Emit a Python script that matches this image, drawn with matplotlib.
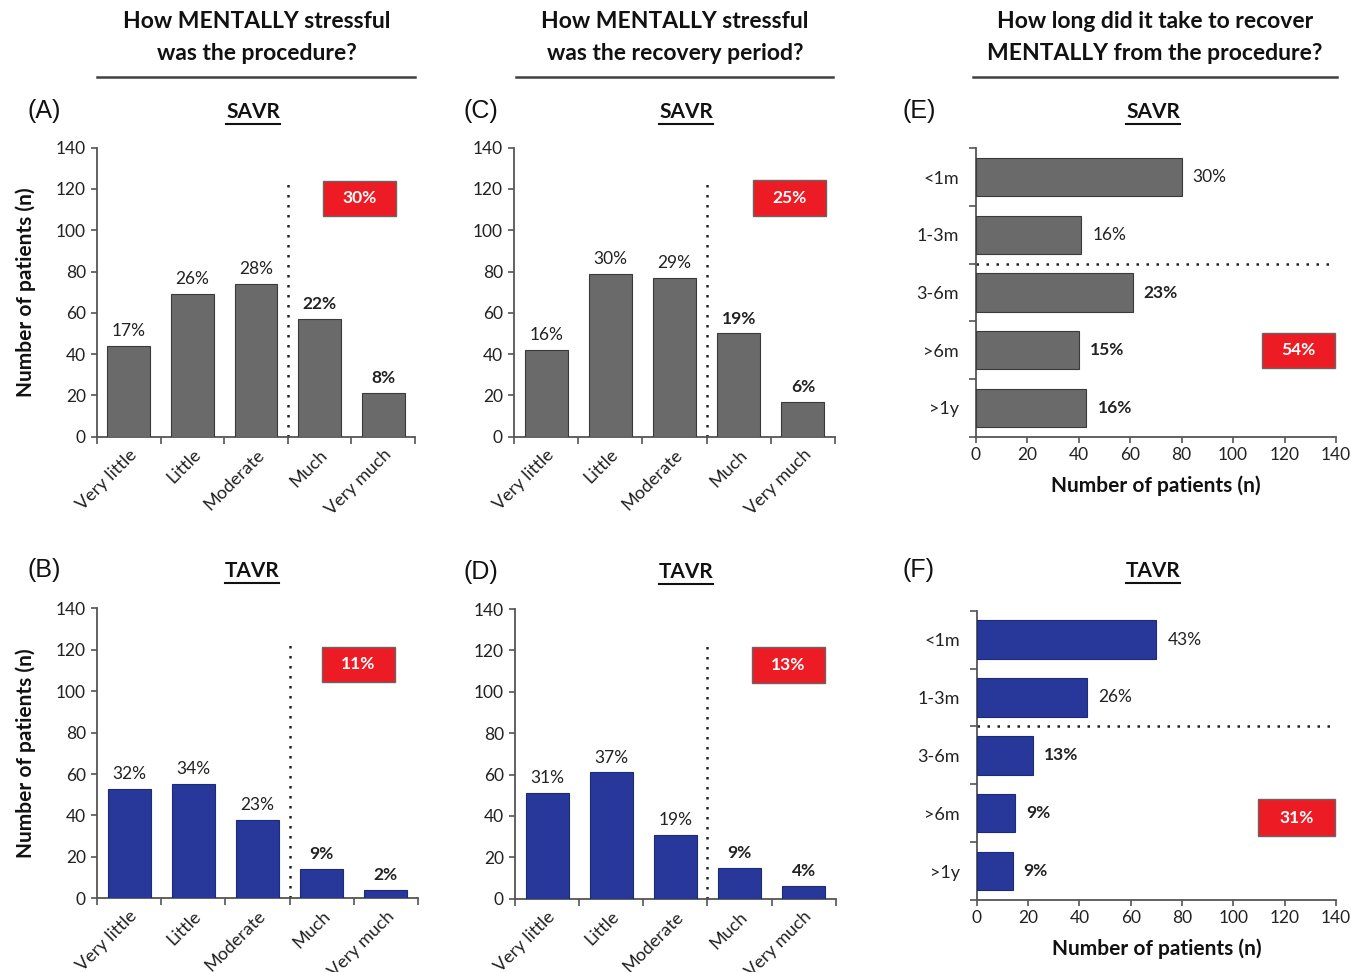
import numpy as np
import matplotlib.pyplot as plt
from matplotlib.lines import Line2D
from matplotlib.patches import Rectangle

plt.rcParams['font.family'] = ['Lato', 'DejaVu Sans']

# ---- data ----
stress_cats = ['Very little', 'Little', 'Moderate', 'Much', 'Very much']
time_cats = ['<1m', '1-3m', '3-6m', '>6m', '>1y']

savr_procedure = [44, 69, 74, 57, 21]
savr_procedure_pct = [17, 26, 28, 22, 8]
tavr_procedure = [53, 55, 38, 14, 4]
tavr_procedure_pct = [32, 34, 23, 9, 2]

savr_recovery = [42, 79, 77, 50, 17]
savr_recovery_pct = [16, 30, 29, 19, 6]
tavr_recovery = [51, 61, 31, 15, 6]
tavr_recovery_pct = [31, 37, 19, 9, 4]

savr_time = [80, 41, 61, 40, 43]
savr_time_pct = [30, 16, 23, 15, 16]
tavr_time = [70, 43, 22, 15, 14]
tavr_time_pct = [43, 26, 13, 9, 9]

box_pct = {'A': 30, 'B': 11, 'C': 25, 'D': 13, 'E': 54, 'F': 31}

W, H = 1351, 972
GREY = '#6a6a6a'
BLUE = '#27389a'
RED = '#ed1c24'
AXC = '#555555'

fig = plt.figure(figsize=(W / 100, H / 100), dpi=100)


def rect(x0, y0, x1, y1):
    # pixel box (top-left origin) -> figure fraction
    return [x0 / W, 1 - y1 / H, (x1 - x0) / W, (y1 - y0) / H]


def fp(x, y):
    return x / W, 1 - y / H


def style_axes(ax):
    for s in ['top', 'right']:
        ax.spines[s].set_visible(False)
    for s in ['left', 'bottom']:
        ax.spines[s].set_color(AXC)
        ax.spines[s].set_linewidth(1.3)
    ax.tick_params(which='both', color=AXC, width=1.2, labelsize=12.5,
                   labelcolor='#222222')


def red_box(ax, bx, val):
    x0, y0, x1, y1 = bx
    ax.add_patch(Rectangle((x0, y0), x1 - x0, y1 - y0, transform=ax.transAxes,
                           facecolor=RED, edgecolor='#666666', lw=1.0,
                           clip_on=False, zorder=4))
    ax.text((x0 + x1) / 2, (y0 + y1) / 2, f'{val}%', transform=ax.transAxes,
            ha='center', va='center', color='white', fontsize=12.5,
            fontweight='bold', zorder=5)


def edge_for(color):
    return '#3a3a3a' if color == GREY else '#1c2a78'


def vertical_panel(box, values, pct, color, boxval, bx):
    ax = fig.add_axes(box)
    style_axes(ax)
    x = np.arange(len(values))
    ax.bar(x, values, width=0.67, color=color, edgecolor=edge_for(color),
           linewidth=0.8, zorder=3)
    for i, (v, p) in enumerate(zip(values, pct)):
        ax.annotate(f'{p}%', (i, v), xytext=(0, 5), textcoords='offset points',
                    ha='center', va='bottom', fontsize=12.5,
                    fontweight='bold' if i >= 3 else 'normal', color='#222222')
    ax.set_xlim(-0.5, len(values) - 0.5)
    ax.set_ylim(0, 140)
    ax.set_yticks(np.arange(0, 141, 20))
    ax.set_xticks(x)
    ax.set_xticklabels(stress_cats, rotation=45, ha='right', rotation_mode='anchor')
    ax.set_xticks(np.arange(-0.5, len(values)), minor=True)
    ax.tick_params(axis='x', which='major', length=0, pad=7, labelsize=13)
    ax.tick_params(axis='x', which='minor', length=5, direction='out')
    ax.tick_params(axis='y', length=4, direction='out', pad=4)
    ax.plot([2.5, 2.5], [0, 124], color='#222222', lw=1.8,
            linestyle=(0, (1, 3)), zorder=2, clip_on=False)
    red_box(ax, bx, boxval)
    return ax


def horizontal_panel(box, values, pct, color, boxval, bx):
    ax = fig.add_axes(box)
    style_axes(ax)
    y = np.arange(len(values))
    ax.barh(y, values, height=0.665, color=color, edgecolor=edge_for(color),
            linewidth=0.8, zorder=3)
    for i, (v, p) in enumerate(zip(values, pct)):
        ax.annotate(f'{p}%', (v, i), xytext=(8, 0), textcoords='offset points',
                    ha='left', va='center', fontsize=12.5,
                    fontweight='bold' if i >= 2 else 'normal', color='#222222')
    ax.set_ylim(len(values) - 0.5, -0.5)
    ax.set_xlim(0, 140)
    ax.set_xticks(np.arange(0, 141, 20))
    ax.set_yticks(y)
    ax.set_yticklabels(time_cats)
    ax.set_yticks(np.arange(-0.5, len(values)), minor=True)
    ax.tick_params(axis='y', which='major', length=0, pad=12, labelsize=13)
    ax.tick_params(axis='y', which='minor', length=5, direction='out')
    ax.tick_params(axis='x', length=4, direction='out')
    ax.plot([0, 138.5], [1.5, 1.5], color='#222222', lw=1.8,
            linestyle=(0, (1, 3)), zorder=2, clip_on=False)
    red_box(ax, bx, boxval)
    ax.set_xlabel('Number of patients (n)', fontsize=15, fontweight='bold',
                  labelpad=9, color='#111111')
    return ax


axA = vertical_panel(rect(97, 147.7, 415, 436.7), savr_procedure, savr_procedure_pct,
                     GREY, box_pct['A'], (0.712, 0.764, 0.94, 0.886))
axB = vertical_panel(rect(97, 608.3, 418, 898.3), tavr_procedure, tavr_procedure_pct,
                     BLUE, box_pct['B'], (0.70, 0.746, 0.928, 0.867))
axC = vertical_panel(rect(514, 147.7, 835, 436.7), savr_recovery, savr_recovery_pct,
                     GREY, box_pct['C'], (0.745, 0.764, 0.972, 0.888))
axD = vertical_panel(rect(515, 609, 835.7, 898.7), tavr_recovery, tavr_recovery_pct,
                     BLUE, box_pct['D'], (0.739, 0.745, 0.967, 0.869))
axE = horizontal_panel(rect(975.7, 148.3, 1336, 436.7), savr_time, savr_time_pct, GREY,
                       box_pct['E'], (0.795, 0.237, 0.998, 0.361))
axF = horizontal_panel(rect(976.7, 610.7, 1336, 900), tavr_time, tavr_time_pct, BLUE,
                       box_pct['F'], (0.784, 0.221, 0.996, 0.348))

for ax in (axA, axB):
    ax.set_ylabel('Number of patients (n)', fontsize=15, fontweight='bold',
                  labelpad=14, color='#111111')

# column headers (two lines) with rule underneath
headers = [('How MENTALLY stressful', 'was the procedure?', 257, 97, 415),
           ('How MENTALLY stressful', 'was the recovery period?', 675, 516, 833),
           ('How long did it take to recover', 'MENTALLY from the procedure?', 1155, 973, 1337)]
for l1, l2, cx, x0, x1 in headers:
    fig.text(*fp(cx, 22), l1, ha='center', va='center', fontsize=16.5,
             fontweight='bold', color='#111111')
    fig.text(*fp(cx, 54), l2, ha='center', va='center', fontsize=16.5,
             fontweight='bold', color='#111111')
    fig.add_artist(Line2D([x0 / W, x1 / W], [1 - 77 / H, 1 - 77 / H],
                          color='#404040', lw=1.8))

# panel letters and underlined group titles
letters = [('(A)', 44, 111), ('(B)', 44, 570), ('(C)', 481, 111),
           ('(D)', 481, 572), ('(E)', 919, 111), ('(F)', 919, 570)]
for lab, x, y in letters:
    fig.text(*fp(x, y), lab, ha='center', va='center', fontsize=18,
             family='Liberation Sans', color='#111111')

groups = [('SAVR', 253, 112), ('TAVR', 252, 571), ('SAVR', 686, 112),
          ('TAVR', 686, 572), ('SAVR', 1153, 112), ('TAVR', 1153, 571)]
fig.canvas.draw()
renderer = fig.canvas.get_renderer()
for lab, x, y in groups:
    t = fig.text(*fp(x, y), lab, ha='center', va='center', fontsize=15,
                 fontweight='bold', color='#111111')
    bb = t.get_window_extent(renderer)
    fig.add_artist(Line2D([bb.x0 / W, bb.x1 / W], [1 - (y + 12) / H] * 2,
                          color='#111111', lw=1.5))

fig.savefig('out.png', dpi=100)
